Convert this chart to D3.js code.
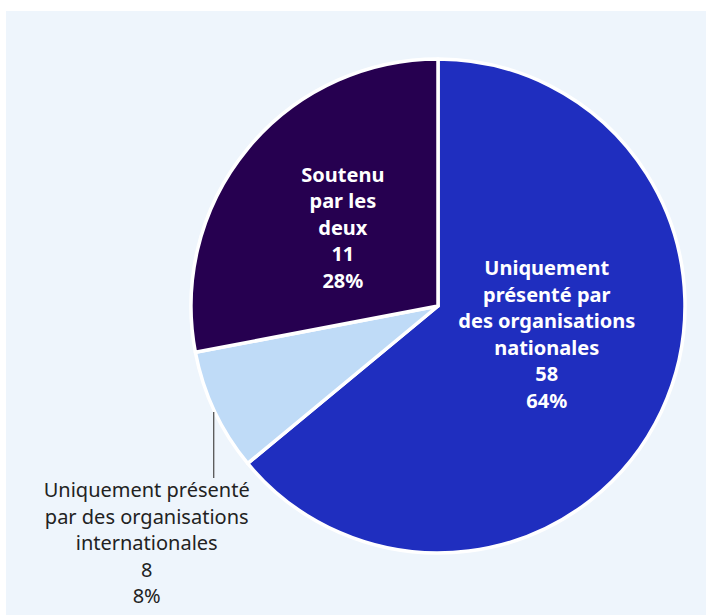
<!DOCTYPE html>
<html><head><meta charset="utf-8">
<script src="https://cdn.jsdelivr.net/npm/d3@7"></script>
<style>
html,body{margin:0;padding:0;background:#fff;}
svg{display:block;font-family:"Noto Sans",sans-serif;}
</style></head>
<body><svg id="c" width="706" height="615"></svg>
<script>
const categories = [
  ["Uniquement","présenté par","des organisations","nationales"],
  ["Uniquement présenté","par des organisations","internationales"],
  ["Soutenu","par les","deux"]
];
const counts = [58, 8, 11];
const percents = [64, 8, 28];
const colors = ["#1f2ebf", "#bfdbf7", "#260050"];

const svg = d3.select("#c");
svg.append("rect").attr("x",6).attr("y",11).attr("width",700).attr("height",604).attr("fill","#eef5fc");

const cx = 438, cy = 306, R = 247;
const g = svg.append("g").attr("transform",`translate(${cx},${cy})`);
const pie = d3.pie().sort(null).value(d=>d.p);
const data = pie(percents.map((p,i)=>({p, c:counts[i], lab:categories[i], col:colors[i], i})));
const arc = d3.arc().innerRadius(0).outerRadius(R);

g.selectAll("path.s").data(data).join("path")
  .attr("class","s").attr("d",arc).attr("fill",d=>d.data.col)
  .attr("stroke","#fff").attr("stroke-width",3.5).attr("stroke-linejoin","round");

// inside labels
const inside = [{i:0, dx:-3, dy:-24, lh:26.6}, {i:2, dx:0, dy:0.5, lh:26.5}];
inside.forEach(o=>{
  const d = data[o.i];
  const [x,y] = arc.centroid(d);
  const lines = d.data.lab.concat([String(d.data.c), d.data.p+"%"]);
  const t = g.append("text").attr("text-anchor","middle").attr("fill","#fff")
    .attr("font-weight","bold").attr("font-size","20px");
  const y0 = y + o.dy - (lines.length-1)*o.lh/2;
  lines.forEach((l,k)=>t.append("tspan").attr("x",x+o.dx).attr("y",y0+k*o.lh).attr("dy","0.35em").text(l));
});

// outside label for small slice
{
  const d = data[1];
  const a = (d.startAngle+d.endAngle)/2;
  const x1 = Math.sin(a)*(R+2), y1 = -Math.cos(a)*(R+2);
  const y2 = y1 + 66;
  g.append("line").attr("x1",x1+1).attr("y1",y1).attr("x2",x1+1).attr("y2",y2)
    .attr("stroke","#555").attr("stroke-width",1.3);
  const lines = d.data.lab.concat([String(d.data.c), d.data.p+"%"]);
  const t = g.append("text").attr("text-anchor","middle").attr("fill","#222").attr("font-size","20px");
  lines.forEach((l,k)=>t.append("tspan").attr("x",x1-66).attr("y",y2+12+k*26.5).attr("dy","0.35em").text(l));
}
</script></body></html>
